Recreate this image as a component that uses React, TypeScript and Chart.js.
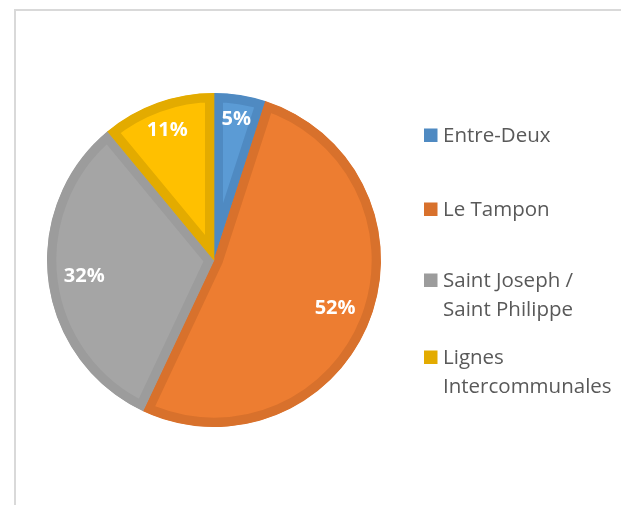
import React, { useEffect, useRef } from "react";
import { Chart, registerables } from "chart.js";

Chart.register(...registerables);

// ---- data ----
const categories = ["Entre-Deux", "Le Tampon", "Saint Joseph / Saint Philippe", "Lignes Intercommunales"];
const shares = [5, 52, 32, 11];
const fillColors = ["#5B9BD5", "#ED7D31", "#A5A5A5", "#FFC000"];
const edgeColors = ["#4F8AC2", "#D8712C", "#9C9C9C", "#E3AB00"];

const W = 621;
const H = 505;
const legendTops = [128, 202, 273, 350];

function wrap(ctx: CanvasRenderingContext2D, text: string, maxW: number): string[] {
  const words = text.split(" ");
  const lines: string[] = [];
  let cur = "";
  for (const w of words) {
    const t = cur ? cur + " " + w : w;
    if (cur && ctx.measureText(t).width > maxW) {
      lines.push(cur);
      cur = w;
    } else cur = t;
  }
  if (cur) lines.push(cur);
  return lines;
}

const labelPlugin = {
  id: "sliceLabels",
  afterDatasetsDraw(chart: any) {
    const ctx: CanvasRenderingContext2D = chart.ctx;
    const meta = chart.getDatasetMeta(0);
    const data: number[] = chart.data.datasets[0].data;
    const total = data.reduce((a, b) => a + b, 0);
    ctx.save();
    ctx.font = "bold 20px 'Open Sans'";
    ctx.fillStyle = "#ffffff";
    ctx.textAlign = "center";
    ctx.textBaseline = "middle";
    meta.data.forEach((arc: any, i: number) => {
      const p = arc.getProps(["x", "y", "startAngle", "endAngle", "outerRadius"], true);
      const mid = (p.startAngle + p.endAngle) / 2;
      const text = Math.round((data[i] / total) * 100) + "%";
      const w = ctx.measureText(text).width;
      const h = 15;
      const ext = Math.abs(Math.cos(mid)) * w / 2 + Math.abs(Math.sin(mid)) * h / 2;
      const d = p.outerRadius - ext - 15;
      ctx.fillText(text, p.x + Math.cos(mid) * d, p.y + Math.sin(mid) * d);
    });
    ctx.restore();
  },
};

const legendPlugin = {
  id: "sideLegend",
  afterDraw(chart: any) {
    const ctx: CanvasRenderingContext2D = chart.ctx;
    const labels: string[] = chart.data.labels;
    const textX = 443;
    const boxX = 424;
    const box = 13.5;
    const lineH = 29;
    ctx.save();
    ctx.font = "20.5px 'Open Sans'";
    ctx.textBaseline = "alphabetic";
    ctx.textAlign = "left";
    labels.forEach((label, i) => {
      const lines = wrap(ctx, label, 174);
      const top = legendTops[i];
      ctx.fillStyle = edgeColors[i];
      ctx.fillRect(boxX, top + 0.5, box, box);
      ctx.fillStyle = "#595959";
      lines.forEach((ln, j) => ctx.fillText(ln, textX, top + 14 + j * lineH));
    });
    ctx.restore();
  },
};

export default function App() {
  const ref = useRef<HTMLCanvasElement | null>(null);
  useEffect(() => {
    if (!ref.current) return;
    const chart = new Chart(ref.current, {
      type: "pie",
      data: {
        labels: categories,
        datasets: [
          {
            data: shares,
            backgroundColor: fillColors,
            borderColor: edgeColors,
            borderWidth: 9,
            borderAlign: "inner",
            hoverOffset: 0,
            offset: 0,
          } as any,
        ],
      },
      options: {
        responsive: false,
        animation: false,
        layout: { padding: { top: 93, bottom: 78, left: 47, right: 240 } },
        plugins: { legend: { display: false }, tooltip: { enabled: false } },
        events: [],
      },
      plugins: [labelPlugin, legendPlugin],
    });
    return () => chart.destroy();
  }, []);
  return (
    <div style={{ position: "fixed", left: 0, top: 0, width: W, height: H, background: "#fff", overflow: "hidden" }}>
      <div
        style={{
          position: "absolute",
          left: 14,
          top: 9,
          width: W,
          height: H,
          borderLeft: "2px solid #d9d9d9",
          borderTop: "2px solid #d9d9d9",
        }}
      />
      <canvas ref={ref} width={W} height={H} style={{ position: "absolute", left: 0, top: 0, width: W, height: H }} />
    </div>
  );
}
